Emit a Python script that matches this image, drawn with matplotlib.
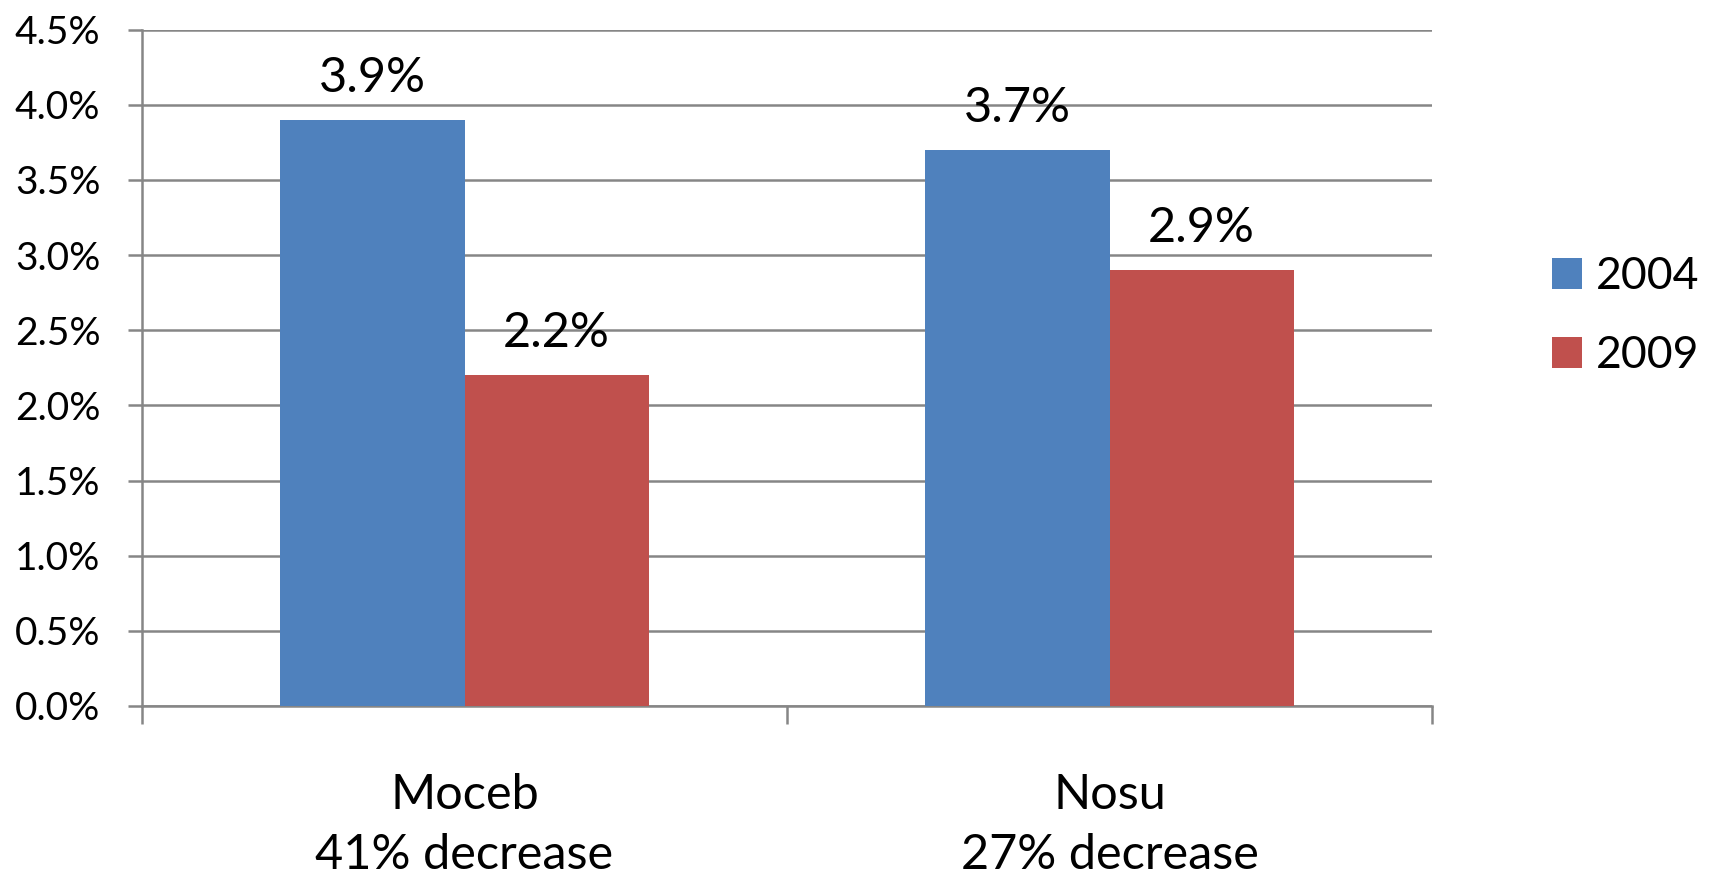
import matplotlib
matplotlib.use("Agg")
import numpy as np
import matplotlib.pyplot as plt
from matplotlib.ticker import FuncFormatter

# donnees (en %)
categories = ["Moceb\n41% decrease", "Nosu\n27% decrease"]
years = ["2004", "2009"]
vals_2004 = [3.9, 3.7]
vals_2009 = [2.2, 2.9]
yticks = [0.0, 0.5, 1.0, 1.5, 2.0, 2.5, 3.0, 3.5, 4.0, 4.5]

plt.rcParams['font.family'] = ['Lato', 'DejaVu Sans']

blue = '#4F81BD'
red = '#C0504D'
grey = '#868686'

fig = plt.figure(figsize=(17.14, 8.77), dpi=100)
ax = fig.add_axes([142/1714, 1 - 706/877, (1432 - 142)/1714, (706 - 29.5)/877])

x = np.arange(len(categories))
w = 1 / 3.5  # largeur de barre (ecart 150%)
b1 = ax.bar(x - w/2, vals_2004, w, color=blue, label=years[0], zorder=3)
b2 = ax.bar(x + w/2, vals_2009, w, color=red, label=years[1], zorder=3)

# etiquettes de valeurs
for bars, vals in [(b1, vals_2004), (b2, vals_2009)]:
    for r, v in zip(bars, vals):
        ax.annotate(f"{v:.1f}%", (r.get_x() + r.get_width()/2, v),
                    xytext=(0, 20), textcoords='offset points',
                    ha='center', va='baseline', fontsize=35, color='black')

ax.set_xlim(-0.5, len(categories) - 0.5)
ax.set_ylim(0, 4.5)
ax.set_yticks(yticks)
ax.yaxis.set_major_formatter(FuncFormatter(lambda v, p: f"{v:.1f}%"))
ax.grid(axis='y', color=grey, linewidth=1.8, zorder=0)

ax.set_xticks(x)
ax.set_xticklabels(categories, fontsize=35, linespacing=1.45)
ax.set_xticks([-0.5, 0.5, 1.5], minor=True)
ax.tick_params(axis='x', which='major', length=0, pad=48)
ax.tick_params(axis='x', which='minor', length=13, width=1.8, color=grey, direction='out')
ax.tick_params(axis='y', length=10, width=1.8, color=grey, direction='out', pad=20, labelsize=28)

for s in ['top', 'right']:
    ax.spines[s].set_visible(False)
for s in ['left', 'bottom']:
    ax.spines[s].set_color(grey)
    ax.spines[s].set_linewidth(1.8)

fig.legend(loc='center left', bbox_to_anchor=(1552/1714, 1 - 316/877),
           frameon=False, fontsize=32, handlelength=0.68, handleheight=0.68,
           handletextpad=0.3, labelspacing=0.85, borderpad=0, borderaxespad=0)

fig.savefig("out.png", dpi=100)
